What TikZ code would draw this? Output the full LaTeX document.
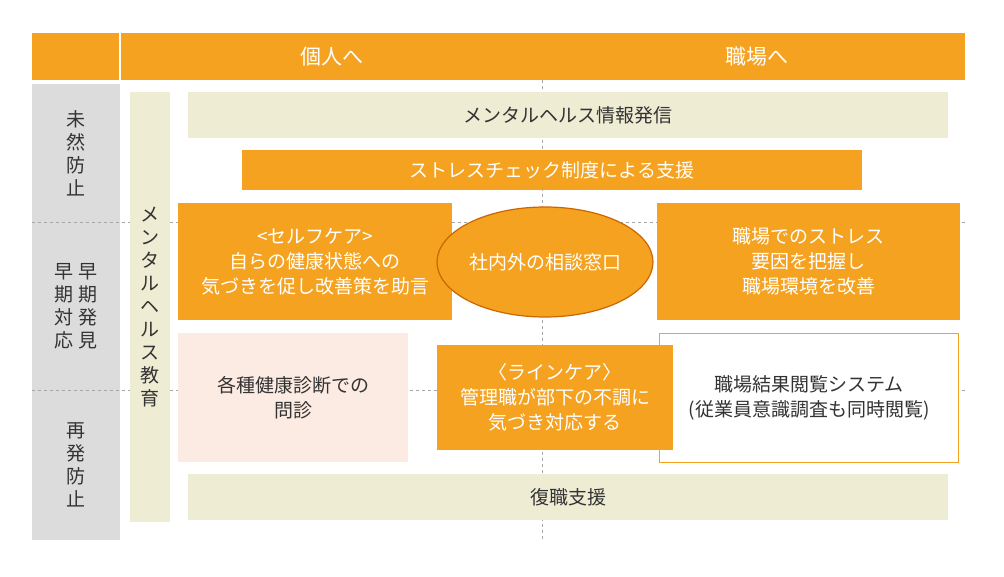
\documentclass[tikz,border=0pt]{standalone}
\usepackage{fontspec}
\setmainfont{Noto Sans CJK JP}
\usetikzlibrary{positioning, calc, shapes.geometric}
\definecolor{orng}{HTML}{F4A21F}
\definecolor{beige}{HTML}{EFECD4}
\definecolor{grayc}{HTML}{DCDCDC}
\definecolor{pinkc}{HTML}{FCEBE2}
\definecolor{txt}{HTML}{333333}
\tikzset{
	x=1pt, y=-1pt,
	box/.style={anchor=north west, inner sep=0pt, align=center, font=\fontsize{19}{25}\selectfont}, % sets common box look
	obox/.style={box, fill=orng, text=white},
	bbox/.style={box, fill=beige, text=txt},
	vtext/.style={align=center, text=txt, font=\fontsize{19}{23}\selectfont},
	sep/.style={gray!70, dashed, thin},
 }
\begin{document}
\begin{tikzpicture}
		\useasboundingbox (0,0) rectangle (1004,577);
		% header
		\node[obox, minimum width=933pt, minimum height=47pt] (head) at (32,33) {};
		\draw[white, line width=1.5pt] (120,33) -- (120,80);
		\node[text=white, font=\fontsize{21}{25}\selectfont] (kojin) at (332,57) {個人へ};
		\node[text=white, font=\fontsize{21}{25}\selectfont] (shokuba) at (757,57) {職場へ};
		% left column
		\node[box, fill=grayc, minimum width=88pt, minimum height=456pt] (leftcol) at (32,84) {};
		\node[vtext] (mizen) at (76,153) {未\\然\\防\\止};
		\node[vtext] (souki) at (76,306) {早\ 早\\期\ 期\\対\ 発\\応\ 見};
		\node[vtext] (saihatsu) at (76,465) {再\\発\\防\\止};
		\draw[sep] (32,222) -- (965,222);
		\draw[sep] (32,390) -- (965,390);
		\draw[sep] (542,80) -- (542,540);
		% boxes
		\node[bbox, minimum width=40pt, minimum height=430pt] (kyoiku) at (130,92) {};
		\node[vtext] (kyoikut) at (kyoiku.center) {メ\\ン\\タ\\ル\\ヘ\\ル\\ス\\教\\育};
		\node[bbox, minimum width=760pt, minimum height=46pt] (joho) at (188,92) {メンタルヘルス情報発信};
		\node[obox, minimum width=620pt, minimum height=40pt] (stress) at (242,150) {ストレスチェック制度による支援};
		\node[obox, minimum width=274pt, minimum height=117pt] (self) at (178,203) {<セルフケア>\\自らの健康状態への\\気づきを促し改善策を助言};
		\node[obox, minimum width=303pt, minimum height=117pt] (kankyo) at (657,203) {職場でのストレス\\要因を把握し\\職場環境を改善};
		\node[box, fill=pinkc, text=txt, minimum width=230pt, minimum height=129pt] (kenshin) at (178,333) {各種健康診断での\\問診};
		\node[box, fill=white, draw=orng, line width=1.2pt, text=txt, minimum width=299pt, minimum height=129pt] (system) at (659,333) {職場結果閲覧システム\\(従業員意識調査も同時閲覧)};
		\node[obox, minimum width=236pt, minimum height=105pt] (line) at (437,345) {〈ラインケア〉\\管理職が部下の不調に\\気づき対応する};
		\node[ellipse, inner sep=0pt, fill=orng, draw=orange!80!black, line width=1.2pt, minimum width=216pt, minimum height=110pt, text=white, font=\fontsize{19}{25}\selectfont] (soudan) at (545,262) {社内外の相談窓口};
		\node[bbox, minimum width=760pt, minimum height=46pt] (fukushoku) at (188,474) {復職支援};
	\end{tikzpicture}
\end{document}
